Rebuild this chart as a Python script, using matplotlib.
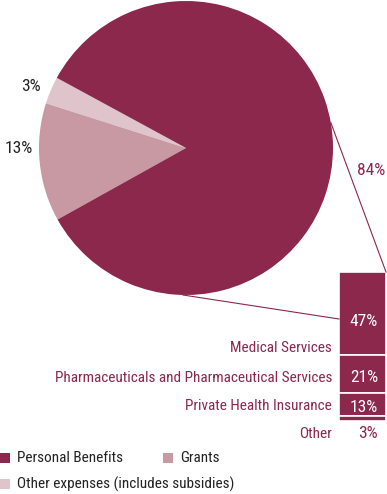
import numpy as np
import matplotlib
matplotlib.use('Agg')
import matplotlib.pyplot as plt
from matplotlib.patches import Rectangle

plt.rcParams['font.family'] = ['Roboto Condensed', 'DejaVu Sans']
plt.rcParams['font.weight'] = 'normal'

# pie: share of total expenses
pie_labels = ['Other expenses (includes subsidies)', 'Grants', 'Personal Benefits']
pie_values = [3, 13, 84]
pie_colors = ['#dfc5cb', '#c899a3', '#8b284c']

# breakdown of personal benefits
bar_labels = ['Medical Services', 'Pharmaceuticals and Pharmaceutical Services',
              'Private Health Insurance', 'Other']
bar_values = [47, 21, 13, 3]

maroon = '#8b284c'
W, H = 387, 494
FS = 11      # words
FP = 12.5    # percentages

fig = plt.figure(figsize=(W / 100, H / 100), dpi=100)
ax = fig.add_axes([0, 0, 1, 1])

# pie, center and radius in pixel units (y measured from bottom)
cx, cy, r = 186, H - 148, 147
ax.pie(pie_values, colors=pie_colors, startangle=151.5, counterclock=True,
       center=(cx, cy), radius=r, wedgeprops=dict(linewidth=0), frame=True)
ax.set_xlim(0, W)
ax.set_ylim(0, H)
ax.set_aspect('equal')
ax.axis('off')

ax.text(31, H - 86, '3%', ha='center', va='center', fontsize=FP, color='#222222')
ax.text(19, H - 148, '13%', ha='center', va='center', fontsize=FP, color='#222222')
ax.text(371, H - 170, '84%', ha='center', va='center', fontsize=FP, color=maroon)

# stacked bar for personal benefits
bx0, bx1 = 339, 386
top = H - 272
scale = 149 / sum(bar_values)
heights = np.array(bar_values) * scale
bottoms = top - np.cumsum(heights)
ax.bar((bx0 + bx1) / 2, heights, width=bx1 - bx0, bottom=bottoms,
       color=maroon, edgecolor='white', linewidth=1.2)

label_y = [348, 378, 406, 434]
value_y = [321, 378, 407, 434]
for i, (lab, v, ly, vy) in enumerate(zip(bar_labels, bar_values, label_y, value_y)):
    ax.text(332, H - ly, lab, ha='right', va='center', fontsize=FS, color=maroon)
    ax.text(378, H - vy, f'{v}%', ha='right', va='center', fontsize=FP,
            color='white' if i < 3 else maroon)

# connector lines from pie to bar
a = np.deg2rad(10)
ax.plot([cx + r * np.cos(a), bx1], [cy + r * np.sin(a), top], color=maroon, lw=0.8)
ax.plot([cx - 3, bx0], [cy - r, H - 319], color=maroon, lw=0.8)

# legend
leg = [(0, 458, 2), (163, 458, 1), (0, 484, 0)]
for x, y, i in leg:
    ax.add_patch(Rectangle((x, H - y - 5), 10, 10, color=pie_colors[i], lw=0))
    ax.text(x + 17, H - y, pie_labels[i], ha='left', va='center', fontsize=FS,
            color='#222222')

fig.savefig('out.png', dpi=100)
